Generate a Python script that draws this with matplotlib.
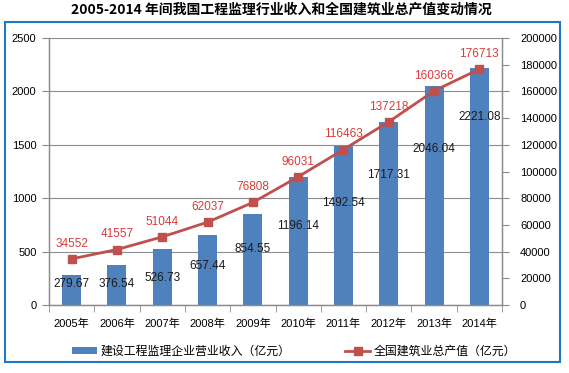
import matplotlib
matplotlib.use("Agg")
import matplotlib.pyplot as plt
import numpy as np
from matplotlib.patches import Rectangle
from matplotlib.lines import Line2D
from matplotlib.patches import Patch

years = ["2005年", "2006年", "2007年", "2008年", "2009年",
         "2010年", "2011年", "2012年", "2013年", "2014年"]
revenue = [279.67, 376.54, 526.73, 657.44, 854.55,
           1196.14, 1492.54, 1717.31, 2046.04, 2221.08]
output_value = [34552, 41557, 51044, 62037, 76808,
                96031, 116463, 137218, 160366, 176713]
revenue_label_y = [197, 197, 253, 365, 524, 740, 955, 1217, 1460, 1760]

title = "2005-2014 年间我国工程监理行业收入和全国建筑业总产值变动情况"
bar_name = "建设工程监理企业营业收入（亿元）"
line_name = "全国建筑业总产值（亿元）"

FONT = ["Liberation Sans", "Noto Sans CJK SC", "DejaVu Sans"]
plt.rcParams["font.family"] = FONT

BAR_C = "#4F81BD"
LINE_C = "#C0504D"
LBL_RED = "#D93A3A"
GRID_C = "#8C8C8C"

fig = plt.figure(figsize=(5.69, 3.73), dpi=100)
ax = fig.add_axes([49/569, 1-305/373, (502-49)/569, (305-38)/373])
ax2 = ax.twinx()

x = np.arange(len(years))
ax.bar(x, revenue, width=0.42, color=BAR_C, zorder=2)
for xi, v, ly in zip(x, revenue, revenue_label_y):
    ax.text(xi, ly, f"{v:.2f}", ha="center", va="center", fontsize=8.5,
            color="#1a1a1a", zorder=5)

ax.set_xlim(-0.5, len(years) - 0.5)
ax.set_ylim(0, 2500)
ax.set_yticks(np.arange(0, 2501, 500))
ax.yaxis.grid(True, color=GRID_C, linewidth=0.8, zorder=0)
ax.set_axisbelow(True)
ax.set_xticks(x)
ax.set_xticklabels(years, fontsize=8)
ax.set_xticks(np.arange(-0.5, len(years), 1), minor=True)
ax.tick_params(axis="x", which="major", length=0, pad=10)
ax.tick_params(axis="x", which="minor", length=5, color=GRID_C, direction="out")
ax.tick_params(axis="y", labelsize=8, length=5, color=GRID_C, pad=4)

ax2.plot(x, output_value, color=LINE_C, linewidth=2, marker="s",
         markersize=6, markerfacecolor=LINE_C, markeredgecolor=LINE_C, zorder=4)
for xi, v in zip(x, output_value):
    ax2.annotate(str(v), (xi, v), xytext=(0, 11), textcoords="offset points",
                 ha="center", va="center", fontsize=8.5, color=LBL_RED)
ax2.set_ylim(0, 200000)
ax2.set_yticks(np.arange(0, 200001, 20000))
ax2.tick_params(axis="y", labelsize=8, length=5, color=GRID_C, pad=8)

for a in (ax, ax2):
    a.spines["top"].set_visible(False)
    for s in ("left", "right", "bottom"):
        a.spines[s].set_color(GRID_C)
        a.spines[s].set_linewidth(0.9)

fig.text(0.495, 1-10/373, title, ha="center", va="center", fontsize=10,
         fontweight="bold", family=["Noto Sans CJK SC", "DejaVu Sans"])

fig.patches.append(Rectangle((5/569, 1-362/373), (560-5)/569, (362-22)/373,
                             transform=fig.transFigure, fill=False,
                             edgecolor="#1F77C8", linewidth=1.5))

handles = [Patch(facecolor=BAR_C, edgecolor="none"),
           Line2D([0], [0], color=LINE_C, linewidth=2, marker="s",
                  markersize=6)]
fig.legend(handles, [bar_name, line_name], loc="center",
           bbox_to_anchor=(0.517, 1-352/373), ncol=2, frameon=False,
           fontsize=8.6, handlelength=2.1, handleheight=0.5,
           columnspacing=4.6, handletextpad=0.3)

fig.savefig("out.png", dpi=100)
